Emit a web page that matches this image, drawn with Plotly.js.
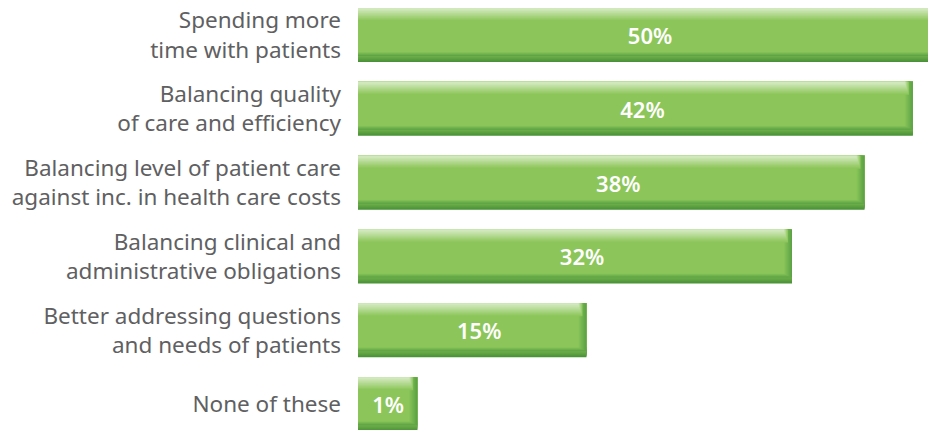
<!DOCTYPE html>
<html>
<head>
<meta charset="utf-8">
<script src="https://cdn.plot.ly/plotly-3.0.1.min.js"></script>
<style>
  html, body { margin: 0; padding: 0; background: #ffffff; }
  #chart { width: 928px; height: 430px; }
</style>
</head>
<body>
<div id="chart"></div>
<script>
// ---- data ----
const categories = [
  "Spending more<br>time with patients",
  "Balancing quality<br>of care and efficiency",
  "Balancing level of patient care<br>against inc. in health care costs",
  "Balancing clinical and<br>administrative obligations",
  "Better addressing questions<br>and needs of patients",
  "None of these"
];
const values = [50, 42, 38, 32, 15, 1];
const valueLabels = ["50%", "42%", "38%", "32%", "15%", "1%"];

// ---- styling / geometry (not data) ----
const BASE = -3.9;              // bars start slightly left of zero
const XMAX = 43.25;
const PX = 5.824 / 430;         // category units per pixel (vertical)
const BAR_H = 54;               // bar thickness in px
const TOP = -BAR_H * PX / 2;    // top edge offset (reversed axis)
const XPX = (XMAX - BASE) / 570; // value units per pixel (horizontal)

function hex(c) { return [1,3,5].map(i => parseInt(c.substr(i,2),16)); }
function mix(a, b, t) {
  const A = hex(a), B = hex(b);
  return 'rgb(' + A.map((v,i) => Math.round(v + (B[i]-v)*t)).join(',') + ')';
}

function layer(color, offPx, hPx, trimPx) {
  return {
    type: 'bar', orientation: 'h',
    y: categories,
    x: values.map(v => v - BASE - trimPx * XPX),
    base: BASE,
    offset: TOP + offPx * PX,
    width: hPx * PX,
    marker: { color: color, line: { width: 0 } },
    hoverinfo: 'skip', showlegend: false
  };
}

const BODY = '#8cc65a', DARK = '#4a9238', EDGE = '#5ca345', LIGHT = '#d0e8bb';
const traces = [];
// bottom dark gradient (full length)
const NB = 10;
for (let k = 0; k <= NB; k++) {
  traces.push(layer(mix(DARK, BODY, k / NB), 0, BAR_H - k * 1.0, 0));
}
// right edge gradient (above the bottom band)
const NR = 8;
for (let k = 0; k <= NR; k++) {
  traces.push(layer(mix(EDGE, BODY, k / NR), 0, BAR_H - 6 - k * 0.5, k * 1.0));
}
// top highlight gradient
const NT = 10;
for (let k = 0; k <= NT; k++) {
  traces.push(layer(mix(BODY, LIGHT, k / NT), 0, 13 - k * 1.1, 4 + k * 0.4));
}
// value labels (transparent carrier bar, label nudged right on the longer bars)
const SHIFT_PX = 14;
const shifts = values.map(v => SHIFT_PX * Math.min(1, v / 15) * XPX);
traces.push({
  type: 'bar', orientation: 'h',
  y: categories,
  x: values.map((v, i) => Math.min(v, XMAX) - BASE - shifts[i]),
  base: shifts.map(s => BASE + s),
  offset: TOP, width: BAR_H * PX,
  marker: { color: 'rgba(0,0,0,0)', line: { width: 0 } },
  text: valueLabels,
  textposition: 'inside',
  insidetextanchor: 'middle',
  textangle: 0,
  constraintext: 'none',
  insidetextfont: { family: 'Noto Sans, Open Sans, sans-serif', size: 22, color: '#ffffff', weight: 600 },
  hoverinfo: 'skip', showlegend: false
});

const layout = {
  width: 928, height: 430,
  margin: { l: 358, r: 0, t: 0, b: 0, pad: 0 },
  paper_bgcolor: '#ffffff', plot_bgcolor: '#ffffff',
  barmode: 'overlay',
  showlegend: false,
  xaxis: { range: [BASE, XMAX], visible: false, fixedrange: true },
  yaxis: {
    type: 'category',
    range: [5.35, -0.474],
    showgrid: false, zeroline: false, showline: false,
    ticks: '', ticklabelstandoff: 16,
    tickfont: { family: 'Noto Sans, Open Sans, sans-serif', size: 22.5, color: '#5f6062' },
    fixedrange: true
  }
};

Plotly.newPlot('chart', traces, layout, { displayModeBar: false, staticPlot: true });
</script>
</body>
</html>
